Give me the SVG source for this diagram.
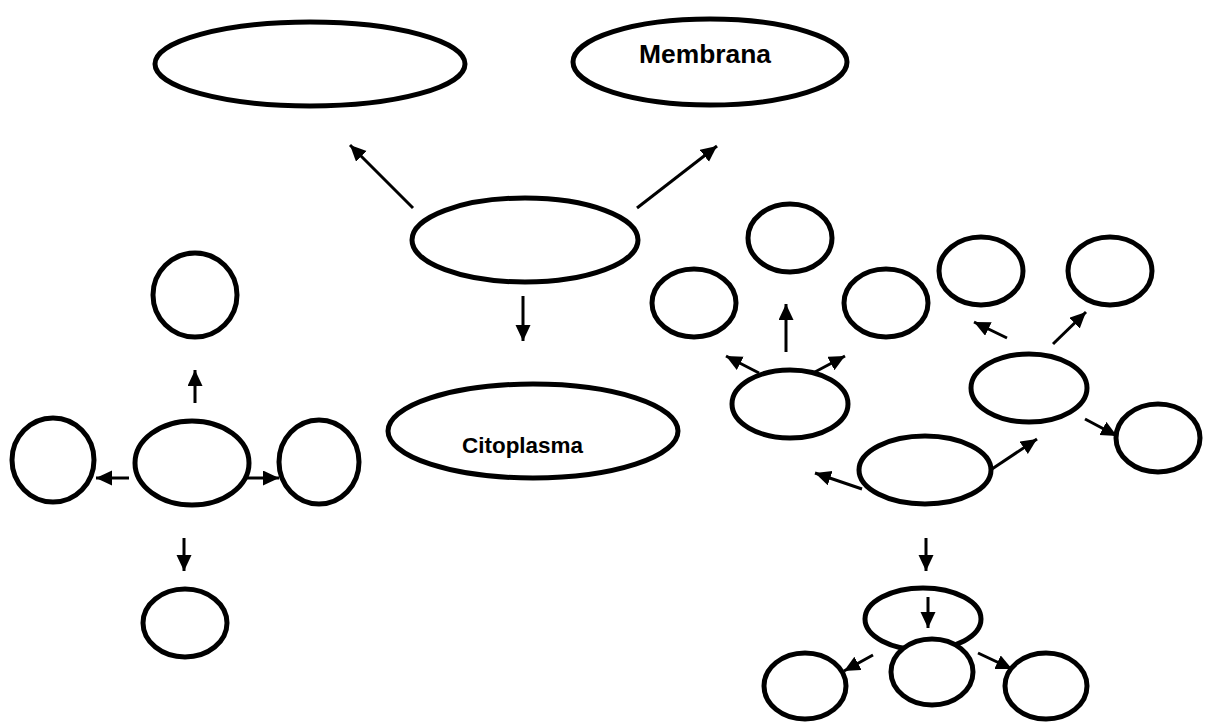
<svg xmlns="http://www.w3.org/2000/svg" width="1212" height="725" viewBox="0 0 1212 725">
<style>
.n{fill:#fff;stroke:#000;stroke-width:5}
.c{stroke:#000;stroke-width:3;fill:none;marker-end:url(#ah)}
.t{font-family:"Liberation Sans",Arial,sans-serif;font-weight:bold;fill:#000}
</style>
<defs>
<marker id="ah" markerUnits="userSpaceOnUse" markerWidth="18" markerHeight="18" viewBox="0 0 18 18" refX="16" refY="7.5" orient="auto">
<path d="M0,0 L16,7.5 L0,15 Z" fill="#000"/>
</marker>
</defs>
<rect width="1212" height="725" fill="#fff"/>
<g id="n-top-left"><ellipse class="n" cx="310" cy="64" rx="155" ry="42"/></g>
<g id="n-membrana"><ellipse class="n" cx="710" cy="62" rx="137" ry="43"/><text class="t" x="639" y="63" font-size="25" textLength="132" lengthAdjust="spacingAndGlyphs">Membrana</text></g>
<g id="n-center"><ellipse class="n" cx="525" cy="240" rx="113" ry="42"/></g>
<g id="n-citoplasma"><ellipse class="n" cx="533" cy="431" rx="145" ry="47"/><text class="t" x="462" y="453" font-size="22" textLength="121" lengthAdjust="spacingAndGlyphs">Citoplasma</text></g>
<g id="l-top"><ellipse class="n" cx="195" cy="295" rx="42" ry="42"/></g>
<g id="l-center"><ellipse class="n" cx="192" cy="463" rx="57" ry="42"/></g>
<g id="l-left"><ellipse class="n" cx="53" cy="460" rx="41" ry="42"/></g>
<g id="l-right"><ellipse class="n" cx="319" cy="462" rx="40" ry="42"/></g>
<g id="l-bottom"><ellipse class="n" cx="185" cy="623" rx="42" ry="34"/></g>
<g id="r-a"><ellipse class="n" cx="790" cy="238" rx="42" ry="34"/></g>
<g id="r-b"><ellipse class="n" cx="694" cy="303" rx="42" ry="34"/></g>
<g id="r-c"><ellipse class="n" cx="886" cy="303" rx="42" ry="34"/></g>
<g id="r-d"><ellipse class="n" cx="981" cy="271" rx="42" ry="34"/></g>
<g id="r-e"><ellipse class="n" cx="1110" cy="271" rx="42" ry="34"/></g>
<g id="r-f"><ellipse class="n" cx="790" cy="404" rx="58" ry="34"/></g>
<g id="r-g"><ellipse class="n" cx="1029" cy="388" rx="58" ry="34"/></g>
<g id="r-h"><ellipse class="n" cx="1158" cy="438" rx="42" ry="34"/></g>
<g id="r-i"><ellipse class="n" cx="925" cy="470" rx="66" ry="34"/></g>
<g id="b-j"><ellipse class="n" cx="923" cy="619" rx="58" ry="31"/></g>
<g id="b-k"><ellipse class="n" cx="932" cy="672" rx="41" ry="33"/></g>
<g id="b-l"><ellipse class="n" cx="805" cy="686" rx="41" ry="33"/></g>
<g id="b-m"><ellipse class="n" cx="1046" cy="686" rx="41" ry="33"/></g>
<g id="connectors">
<line class="c" x1="413" y1="208" x2="350" y2="145"/>
<line class="c" x1="637" y1="208" x2="717" y2="146"/>
<line class="c" x1="523" y1="296" x2="523" y2="341"/>
<line class="c" x1="195" y1="403" x2="195" y2="370"/>
<line class="c" x1="129" y1="478" x2="96" y2="478"/>
<line class="c" x1="247" y1="478" x2="279" y2="478"/>
<line class="c" x1="184" y1="538" x2="184" y2="571"/>
<line class="c" x1="786" y1="352" x2="786" y2="304"/>
<line class="c" x1="759" y1="373" x2="726" y2="356"/>
<line class="c" x1="813" y1="373" x2="845" y2="356"/>
<line class="c" x1="1007" y1="338" x2="974" y2="322"/>
<line class="c" x1="1053" y1="344" x2="1086" y2="312"/>
<line class="c" x1="1085" y1="419" x2="1117" y2="436"/>
<line class="c" x1="992" y1="469" x2="1037" y2="439"/>
<line class="c" x1="862" y1="489" x2="815" y2="473"/>
<line class="c" x1="926" y1="538" x2="926" y2="571"/>
<line class="c" x1="928" y1="597" x2="928" y2="628"/>
<line class="c" x1="873" y1="655" x2="844" y2="671"/>
<line class="c" x1="978" y1="653" x2="1012" y2="669"/>
</g>
</svg>
